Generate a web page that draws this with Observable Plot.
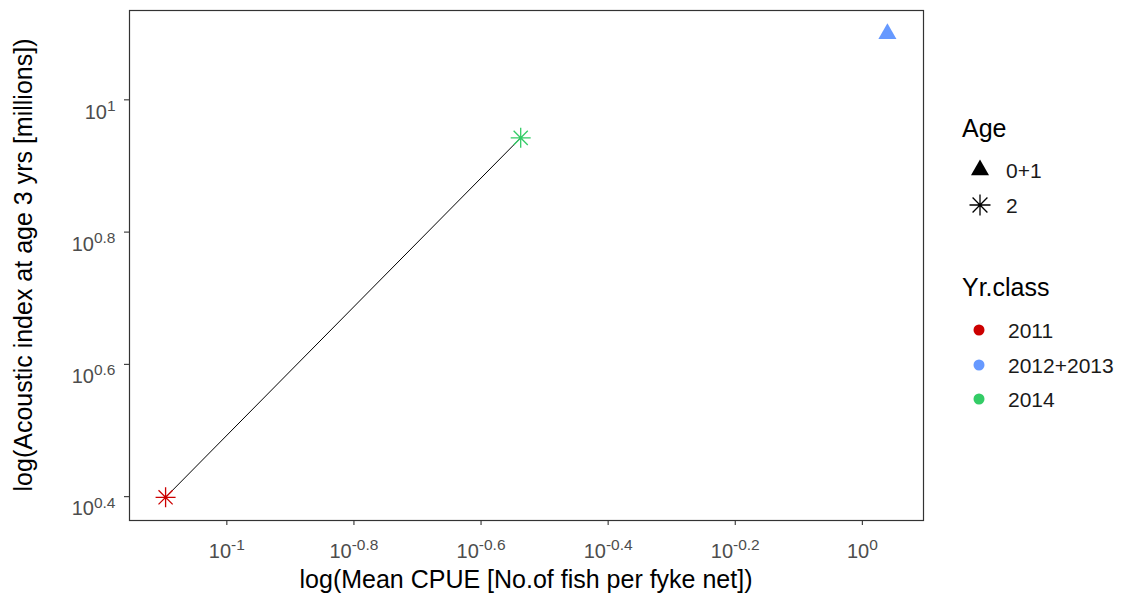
<!DOCTYPE html>
<html><head><meta charset="utf-8">
<script src="https://cdn.jsdelivr.net/npm/d3@7"></script>
<script src="https://cdn.jsdelivr.net/npm/@observablehq/plot@0.6"></script>
<style>
body{margin:0;background:#fff;}
#wrap{position:relative;width:1122px;height:599px;font-family:"Liberation Sans",Arial,sans-serif;}
#legend{position:absolute;left:0;top:0;pointer-events:none;}
</style></head><body><div id="wrap"></div>
<script>
// ---- data ----
const yrClass = ["2011", "2012+2013", "2014"];
const ageGroup = ["2", "0+1", "2"];
const cpue = [0.0801, 1.095, 0.290];        // Mean CPUE (fish per fyke net)
const acoustic = [2.506, 12.59, 8.76];      // Acoustic index at age 3 (millions)
const xTickExps = [-1, -0.8, -0.6, -0.4, -0.2, 0];
const yTickExps = [0.4, 0.6, 0.8, 1];
const ageLevels = ["0+1", "2"];
const yrColors = ["#CC0000", "#6699FF", "#33CC66"];
const xTitle = "log(Mean CPUE [No.of fish per fyke net])";
const yTitle = "log(Acoustic index at age 3 yrs [millions])";

const data = yrClass.map((d, i) => ({yr: d, age: ageGroup[i], x: cpue[i], y: acoustic[i]}));

function expandLog(vals) {
  const l = vals.map(Math.log10);
  const [a, b] = d3.extent(l);
  const p = (b - a) * 0.05;
  return [10 ** (a - p), 10 ** (b + p)];
}
const fmt = v => "10^" + (Math.round(Math.log10(v) * 10) / 10);

const star8 = {
  draw(ctx, size) {
    const r = Math.sqrt(size / Math.PI);
    for (let i = 0; i < 4; i++) {
      const a = i * Math.PI / 4, dx = r * Math.cos(a), dy = r * Math.sin(a);
      ctx.moveTo(-dx, -dy); ctx.lineTo(dx, dy);
    }
  }
};

const W = 1122, H = 599, mL = 129, mR = 199, mT = 10, mB = 79;
const FONT = "'Liberation Sans', Arial, sans-serif";
const TICK_FS = 20, EXP_FS = 15.5, TITLE_FS = 25, LEG_FS = 21;

const chart = Plot.plot({
  width: W, height: H,
  marginLeft: mL, marginRight: mR, marginTop: mT, marginBottom: mB,
  style: {fontFamily: FONT, fontSize: TICK_FS + "px", background: "#fff", overflow: "visible"},
  x: {type: "log", domain: expandLog(cpue)},
  y: {type: "log", domain: expandLog(acoustic)},
  color: {domain: yrClass, range: yrColors},
  marks: [
    Plot.frame({stroke: "#333", strokeWidth: 1.2}),
    Plot.axisX(xTickExps.map(e => 10 ** e), {tickFormat: fmt, tickSize: 5, tickPadding: 18, label: null, fill: "#4d4d4d", stroke: "#333", strokeWidth: 1.1}),
    Plot.axisY(yTickExps.map(e => 10 ** e), {tickFormat: fmt, tickSize: 5, tickPadding: 9, label: null, fill: "#4d4d4d", stroke: "#333", strokeWidth: 1.1}),
    Plot.line(data.filter(d => d.age === "2"), {x: "x", y: "y", stroke: "black", strokeWidth: 1, sort: "x"}),
    Plot.dot(data.filter(d => d.age === "0+1"), {x: "x", y: "y", fill: "yr", symbol: "triangle", r: 6.7}),
    Plot.dot(data.filter(d => d.age === "2"), {x: "x", y: "y", stroke: "yr", symbol: star8, r: 10, strokeWidth: 1.3})
  ]
});

const wrap = document.getElementById("wrap");
wrap.appendChild(chart);
const svg = d3.select(chart);

// superscript tick labels
function superscript(sel, dyBase) {
  sel.each(function () {
    const t = d3.select(this);
    const s = this.textContent;
    const exp = s.split("^")[1];
    t.text(null).attr("font-size", TICK_FS);
    if (dyBase != null) t.attr("dy", dyBase);
    t.append("tspan").text("10");
    t.append("tspan").attr("dy", "-0.5em").attr("font-size", EXP_FS).text(exp);
  });
}
superscript(svg.selectAll('g[aria-label="x-axis tick label"] text'), null);
superscript(svg.selectAll('g[aria-label="y-axis tick label"] text'), "0.62em");

// axis titles
svg.append("text").attr("x", mL + (W - mL - mR) / 2).attr("y", 588)
  .attr("text-anchor", "middle").attr("font-size", TITLE_FS).attr("fill", "#000").text(xTitle);
svg.append("text").attr("transform", `translate(32,${mT + (H - mT - mB) / 2}) rotate(-90)`)
  .attr("text-anchor", "middle").attr("font-size", TITLE_FS).attr("fill", "#000").text(yTitle);

// legend
const leg = d3.select(wrap).append("svg").attr("id", "legend").attr("width", W).attr("height", H)
  .style("font-family", FONT);
leg.append("text").attr("x", 962).attr("y", 137).attr("font-size", TITLE_FS).text("Age");
const ageY = [170, 205];
ageLevels.forEach((a, i) => {
  const cy = ageY[i];
  if (a === "0+1") {
    const s = d3.symbol(d3.symbolTriangle, 6.7 * 6.7 * Math.PI)();
    leg.append("path").attr("d", s).attr("transform", `translate(980,${cy})`).attr("fill", "#000");
  } else {
    const s = d3.symbol(star8, 10.5 * 10.5 * Math.PI)();
    leg.append("path").attr("d", s).attr("transform", `translate(980,${cy})`).attr("stroke", "#000").attr("stroke-width", 1.3).attr("fill", "none");
  }
  leg.append("text").attr("x", 1006).attr("y", cy + 7.5).attr("font-size", LEG_FS).attr("fill", "#1a1a1a").text(a);
});
leg.append("text").attr("x", 962).attr("y", 296).attr("font-size", TITLE_FS).text("Yr.class");
const yrY = [330, 365, 399];
yrClass.forEach((c, i) => {
  leg.append("circle").attr("cx", 979).attr("cy", yrY[i]).attr("r", 5.5).attr("fill", yrColors[i]);
  leg.append("text").attr("x", 1008).attr("y", yrY[i] + 7.5).attr("font-size", LEG_FS).attr("fill", "#1a1a1a").text(c);
});
</script></body></html>
